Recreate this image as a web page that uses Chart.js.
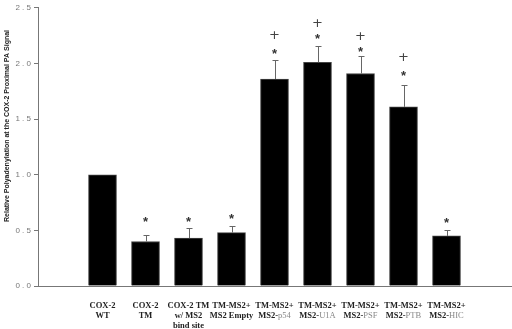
<!DOCTYPE html>
<html>
<head>
<meta charset="utf-8">
<script src="https://cdn.jsdelivr.net/npm/chart.js@4"></script>
<style>
  body { margin: 0; background: #fff; }
</style>
</head>
<body>
<canvas id="myChart" width="512" height="329"></canvas>
<script>
// category labels, one array per line; grey part of 2nd line kept separate
const categories = [
  ["COX-2", "WT"],
  ["COX-2", "TM"],
  ["COX-2 TM", "w/ MS2", "bind site"],
  ["TM-MS2+", "MS2 Empty"],
  ["TM-MS2+", "MS2-"],
  ["TM-MS2+", "MS2-"],
  ["TM-MS2+", "MS2-"],
  ["TM-MS2+", "MS2-"],
  ["TM-MS2+", "MS2-"],
];
const greyParts = ["", "", "", "", "p54", "U1A", "PSF", "PTB", "HIC"];

// bar heights and upper error
const values = [1.0, 0.40, 0.43, 0.48, 1.86, 2.01, 1.91, 1.61, 0.45];
const errors = [0, 0.06, 0.09, 0.06, 0.17, 0.15, 0.16, 0.20, 0.05];

// significance marks (null = none), at value heights
const starAt = [null, 0.59, 0.59, 0.62, 2.10, 2.23, 2.12, 1.90, 0.58];
const plusAt = [null, null, null, null, 2.25, 2.36, 2.24, 2.05, null];

const yTicks = [0, 0.5, 1.0, 1.5, 2.0, 2.5];
const yTitle = "Relative Polyadenylation at the COX-2 Proximal PA Signal";

// draws error bars, marks, category labels and the y title
const extras = {
  id: "extras",
  afterDatasetsDraw(chart) {
    const ctx = chart.ctx;
    const x = chart.scales.x;
    const y = chart.scales.y;
    ctx.save();

    // error bars (upper only)
    ctx.strokeStyle = "#666";
    ctx.lineWidth = 1;
    values.forEach((v, i) => {
      if (!errors[i]) return;
      const px = Math.round(x.getPixelForValue(i + 1)) + 0.5;
      const y0 = y.getPixelForValue(v);
      const y1 = Math.round(y.getPixelForValue(v + errors[i])) + 0.5;
      ctx.beginPath();
      ctx.moveTo(px, y0);
      ctx.lineTo(px, y1);
      ctx.moveTo(px - 3, y1);
      ctx.lineTo(px + 3, y1);
      ctx.stroke();
    });

    // stars and pluses
    ctx.textAlign = "center";
    ctx.textBaseline = "middle";
    starAt.forEach((s, i) => {
      if (s == null) return;
      ctx.fillStyle = "#333";
      ctx.font = "bold 13px 'Liberation Sans'";
      ctx.fillText("*", x.getPixelForValue(i + 1), y.getPixelForValue(s) + 2);
    });
    plusAt.forEach((p, i) => {
      if (p == null) return;
      ctx.fillStyle = "#444";
      ctx.font = "13px 'DejaVu Sans'";
      ctx.fillText("+", x.getPixelForValue(i + 1), y.getPixelForValue(p));
    });

    // category labels
    ctx.textBaseline = "alphabetic";
    const bold = "bold 8.5px 'Liberation Serif'";
    const plain = "8.5px 'Liberation Serif'";
    categories.forEach((lines, i) => {
      const cx = x.getPixelForValue(i + 1);
      lines.forEach((txt, j) => {
        const ly = 308 + j * 10;
        if (j === 1 && greyParts[i]) {
          ctx.font = bold;
          const w1 = ctx.measureText(txt).width;
          ctx.font = plain;
          const w2 = ctx.measureText(greyParts[i]).width;
          const start = cx - (w1 + w2) / 2;
          ctx.textAlign = "left";
          ctx.font = bold;
          ctx.fillStyle = "#222";
          ctx.fillText(txt, start, ly);
          ctx.font = plain;
          ctx.fillStyle = "#888";
          ctx.fillText(greyParts[i], start + w1, ly);
        } else {
          ctx.textAlign = "center";
          ctx.font = bold;
          ctx.fillStyle = "#222";
          ctx.fillText(txt, cx, ly);
        }
      });
    });

    // y axis title
    ctx.translate(7, 126);
    ctx.rotate(-Math.PI / 2);
    ctx.textAlign = "center";
    ctx.textBaseline = "middle";
    ctx.font = "bold 7px 'Liberation Sans'";
    ctx.fillStyle = "#222";
    ctx.fillText(yTitle, 0, 0);
    ctx.restore();
  },
};

const ctx = document.getElementById("myChart").getContext("2d");
const chart = new Chart(ctx, {
  type: "bar",
  data: {
    datasets: [
      {
        data: values.map((v, i) => ({ x: i + 1, y: v })),
        backgroundColor: "#000",
        borderColor: "#444",
        borderWidth: 1,
        barThickness: 28,
      },
    ],
  },
  options: {
    responsive: false,
    animation: false,
    layout: { padding: { top: 4, right: 1 } },
    plugins: { legend: { display: false }, tooltip: { enabled: false } },
    scales: {
      x: {
        type: "linear",
        min: 0,
        max: 10,
        grid: { display: false },
        ticks: { display: false },
        border: { color: "#777" },
        afterFit: (s) => { s.height = 43; },
      },
      y: {
        min: 0,
        max: 2.5,
        afterBuildTicks: (s) => { s.ticks = yTicks.map((v) => ({ value: v })); },
        ticks: {
          color: "#777",
          padding: 3,
          font: { family: "'Liberation Sans'", size: 8 },
          callback: (v) => v.toFixed(1).split("").join(" "),
        },
        grid: { drawOnChartArea: false, tickLength: 4, color: "#777" },
        border: { color: "#777" },
        afterFit: (s) => { s.width = 38; },
      },
    },
  },
  plugins: [extras],
});
</script>
</body>
</html>
